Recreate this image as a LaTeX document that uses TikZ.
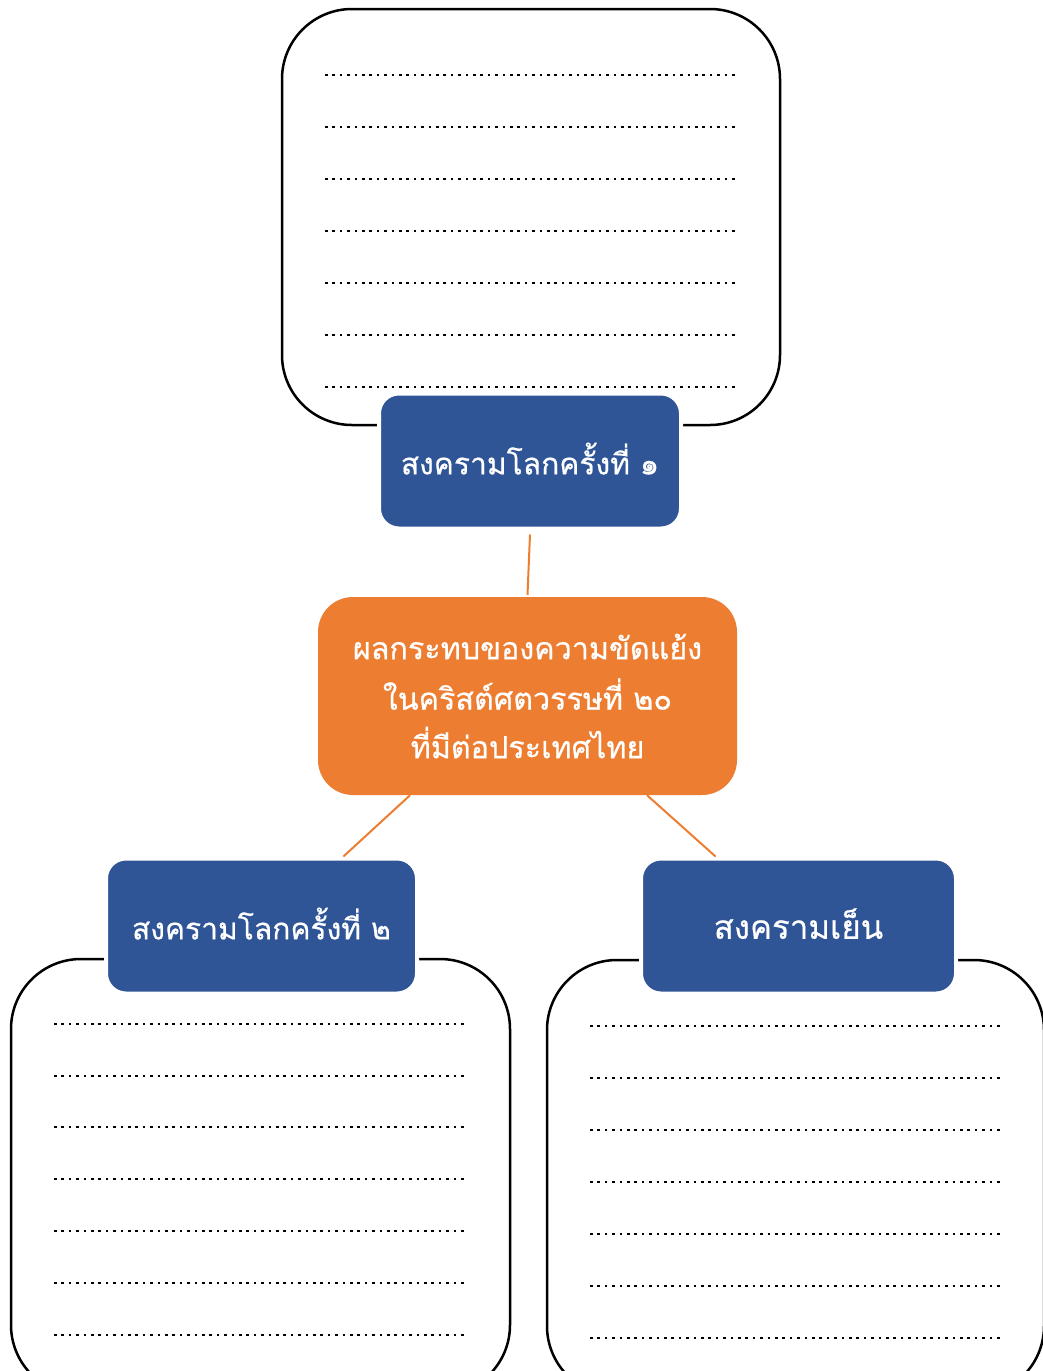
\documentclass[tikz,border=0pt]{standalone}
\usepackage{fontspec}
\newfontfamily\thaifont[Script=Thai,FakeBold=0.6]{Loma}
\usetikzlibrary{calc}
\definecolor{boxblue}{HTML}{2F5597}
\definecolor{boxorange}{HTML}{ED7D31}
\tikzset{
  frame/.style={draw=black, line width=2.5pt, rounded corners=70pt, fill=white, inner sep=0pt},
  titlebox/.style={fill=boxblue, draw=white, line width=4pt, rounded corners=20pt, inner sep=0pt,
    minimum width=311pt, minimum height=135pt, text=white, font=\thaifont\fontsize{30}{36}\selectfont},
  centerbox/.style={fill=boxorange, draw=none, rounded corners=35pt, inner sep=0pt,
    minimum width=419pt, minimum height=198pt, text=white, align=center,
    font=\thaifont\fontsize{30.5}{48.5}\selectfont},
  link/.style={draw=boxorange, line width=2pt},
  dotline/.style={line width=2.5pt, dash pattern=on 2.5pt off 4.9pt}
}
\begin{document}
\begin{tikzpicture}[x=1pt,y=-1pt]
\useasboundingbox (0,0) rectangle (1043,1371);
\clip (0,0) rectangle (1043,1371);
\fill[white] (0,0) rectangle (1043,1371);
% frames
\node[frame, minimum width=498pt, minimum height=416pt] (f1) at (531,217) {};
\node[frame, minimum width=499pt, minimum height=436pt] (f2) at (260.5,1177) {};
\node[frame, minimum width=497pt, minimum height=436pt] (f3) at (795.5,1178) {};
% dotted lines
\foreach \y in {75,127,179,231,283,335,387} \draw[dotline] (325,\y) -- (735,\y);
\foreach \y in {1024,1076,1127,1179,1231,1283,1335} \draw[dotline] (54,\y) -- (465,\y);
\foreach \y in {1026,1078,1130,1182,1234,1286,1338} \draw[dotline] (590,\y) -- (1000,\y);
% title boxes
\node[titlebox, minimum width=302pt] (t1) at (530,461) {\raisebox{5pt}{สงครามโลกครั้งที่ ๑}};
\node[titlebox] (t2) at (261.5,926) {\raisebox{5pt}{สงครามโลกครั้งที่ ๒}};
\node[titlebox, minimum width=315pt, font=\thaifont\fontsize{33}{36}\selectfont] (t3) at (798.5,926) {\raisebox{5pt}{สงครามเย็น}};
% center
\node[centerbox] (c) at (527.5,696) {\raisebox{2pt}{ผลกระทบของความขัดแย้ง}\\ในคริสต์ศตวรรษที่ ๒๐\\ที่มีต่อประเทศไทย};
% links
\draw[link] ($(t1.south)+(0,4)$) -- ($(c.north)+(0,-2)$);
\draw[link] ($(c.south west)!0.22!(c.south east)$) -- ($(t2.north west)!0.76!(t2.north east)$);
\draw[link] ($(c.south west)!0.785!(c.south east)$) -- ($(t3.north west)!0.24!(t3.north east)$);
\end{tikzpicture}
\end{document}
